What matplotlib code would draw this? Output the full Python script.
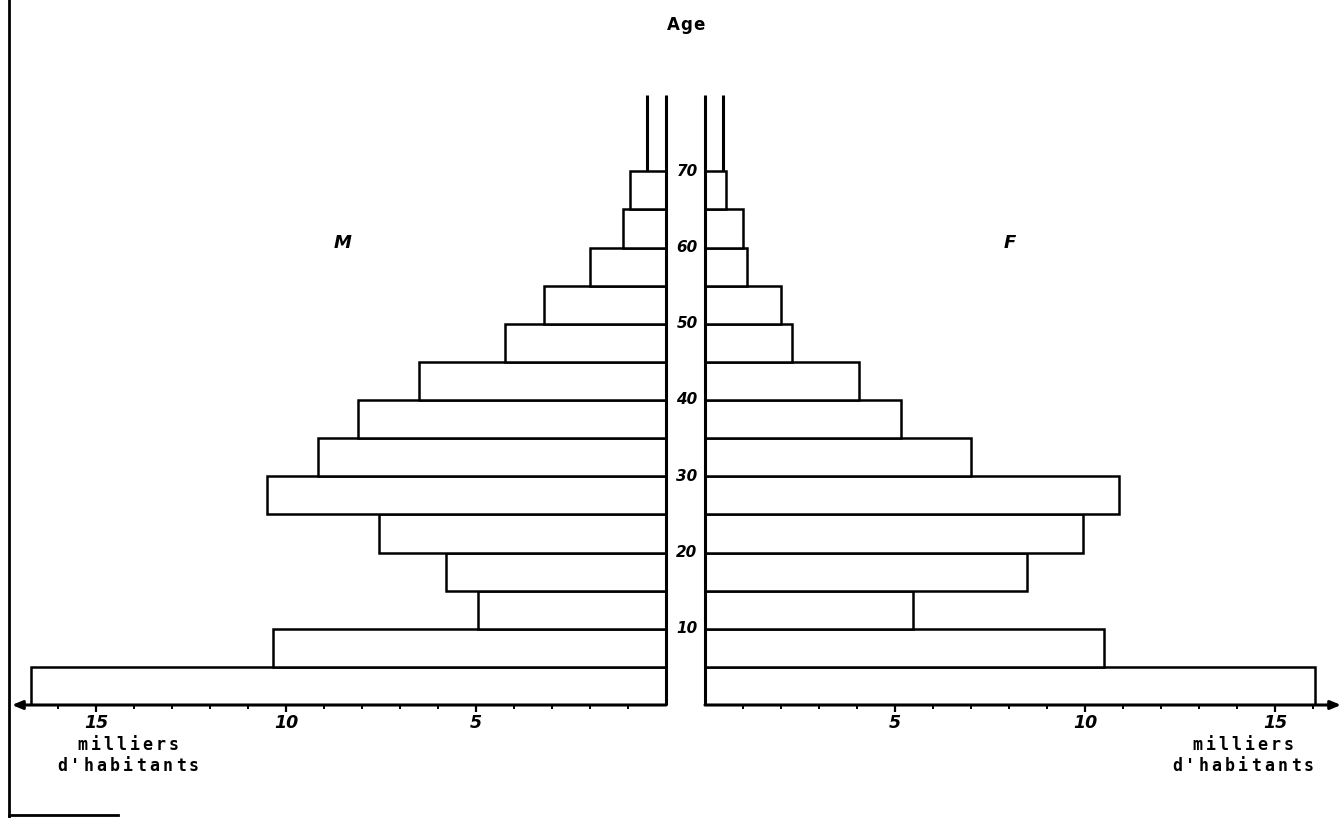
import matplotlib
matplotlib.use("Agg")
import matplotlib.pyplot as plt
from matplotlib.transforms import blended_transform_factory

# ---- data (thousands of inhabitants, 5-year age groups) ----
age_starts = [0, 5, 10, 15, 20, 25, 30, 35, 40, 45, 50, 55, 60, 65]
males = [16.7, 10.35, 4.95, 5.8, 7.55, 10.5, 9.15, 8.1, 6.5, 4.25, 3.2, 2.0, 1.13, 0.95]
females = [16.05, 10.5, 5.47, 8.47, 9.95, 10.9, 7.0, 5.15, 4.05, 2.3, 2.0, 1.1, 1.0, 0.55]
top_age_start = 70          # open-ended 70+ group
top_age_end = 80
male_top = 0.5
female_top = 0.47
age_ticks = [10, 20, 30, 40, 50, 60, 70]
x_major = [5, 10, 15]
x_minor = list(range(1, 17))

W, H = 1341, 818
fig = plt.figure(figsize=(W / 100, H / 100), dpi=100)
fig.patch.set_facecolor("white")

px_per_unit = 38.0
yb = (H - 705) / H
yh = (705 - 95) / H

left_x0, left_zero = 12, 666
right_zero, right_x1 = 705, 1341

axL = fig.add_axes([left_x0 / W, yb, (left_zero - left_x0) / W, yh])
axR = fig.add_axes([right_zero / W, yb, (right_x1 - right_zero) / W, yh])
axL.set_xlim((left_zero - left_x0) / px_per_unit, 0)
axR.set_xlim(0, (right_x1 - right_zero) / px_per_unit)

for ax, vals, topv in ((axL, males, male_top), (axR, females, female_top)):
    ax.set_ylim(0, top_age_end)
    ax.set_facecolor("none")
    for s in ax.spines.values():
        s.set_visible(False)
    ax.barh(age_starts, vals, height=5, left=0, align="edge",
            facecolor="white", edgecolor="black", linewidth=1.8, zorder=2)
    # open-ended top group
    ax.vlines(topv, top_age_start, top_age_end, color="black", lw=2.2, zorder=3)
    # central vertical axis
    ax.vlines(0, 0, top_age_end, color="black", lw=2.2, zorder=4, clip_on=False)
    # bottom axis with arrow
    xend = ax.get_xlim()[0] if ax is axL else ax.get_xlim()[1]
    ax.annotate("", xy=(xend, 0), xytext=(0, 0), xycoords="data",
                arrowprops=dict(arrowstyle="-|>,head_length=0.6,head_width=0.25",
                                lw=2.2, color="black", shrinkA=0, shrinkB=0),
                annotation_clip=False, zorder=5)
    ax.set_yticks([])
    ax.set_xticks(x_major)
    ax.set_xticks(x_minor, minor=True)
    ax.set_xticklabels([str(v) for v in x_major], fontsize=12.5,
                       fontweight="bold", fontstyle="italic")
    ax.tick_params(axis="x", which="major", length=5, width=1.6, pad=1.5,
                   direction="out", color="black")
    ax.tick_params(axis="x", which="minor", length=3, width=1.4,
                   direction="out", color="black")

# age labels in the central gap
tr = blended_transform_factory(fig.transFigure, axR.transData)
for a in age_ticks:
    axR.text(687 / W, a, str(a), transform=tr, ha="center", va="center",
             fontsize=11, fontweight="bold", fontstyle="italic", clip_on=False)


def spaced_text(xc, yc, s, pitch, size, family="DejaVu Sans Mono"):
    n = len(s)
    start = xc - pitch * (n - 1) / 2
    for i, ch in enumerate(s):
        fig.text((start + i * pitch) / W, 1 - yc / H, ch, ha="center",
                 va="center", fontsize=size, fontweight="bold",
                 family=family)


spaced_text(686, 25, "Age", 13, 12, family="DejaVu Sans")
spaced_text(128, 745, "milliers", 13, 12)
spaced_text(128, 766, "d'habitants", 13.2, 12)
spaced_text(1243, 745, "milliers", 13, 12)
spaced_text(1243, 766, "d'habitants", 13.2, 12)

fig.text(343 / W, 1 - 243 / H, "M", ha="center", va="center", fontsize=13,
         fontweight="bold", fontstyle="italic")
fig.text(1010 / W, 1 - 243 / H, "F", ha="center", va="center", fontsize=13,
         fontweight="bold", fontstyle="italic")

# page frame fragments (left edge and bottom-left)
fig.add_artist(plt.Line2D([9 / W, 9 / W], [0, 1], transform=fig.transFigure,
                          color="black", lw=2.0))
fig.add_artist(plt.Line2D([9 / W, 118 / W], [1 - 815 / H, 1 - 815 / H],
                          transform=fig.transFigure, color="black", lw=2.0))

fig.savefig("out.png", dpi=100, facecolor="white")
